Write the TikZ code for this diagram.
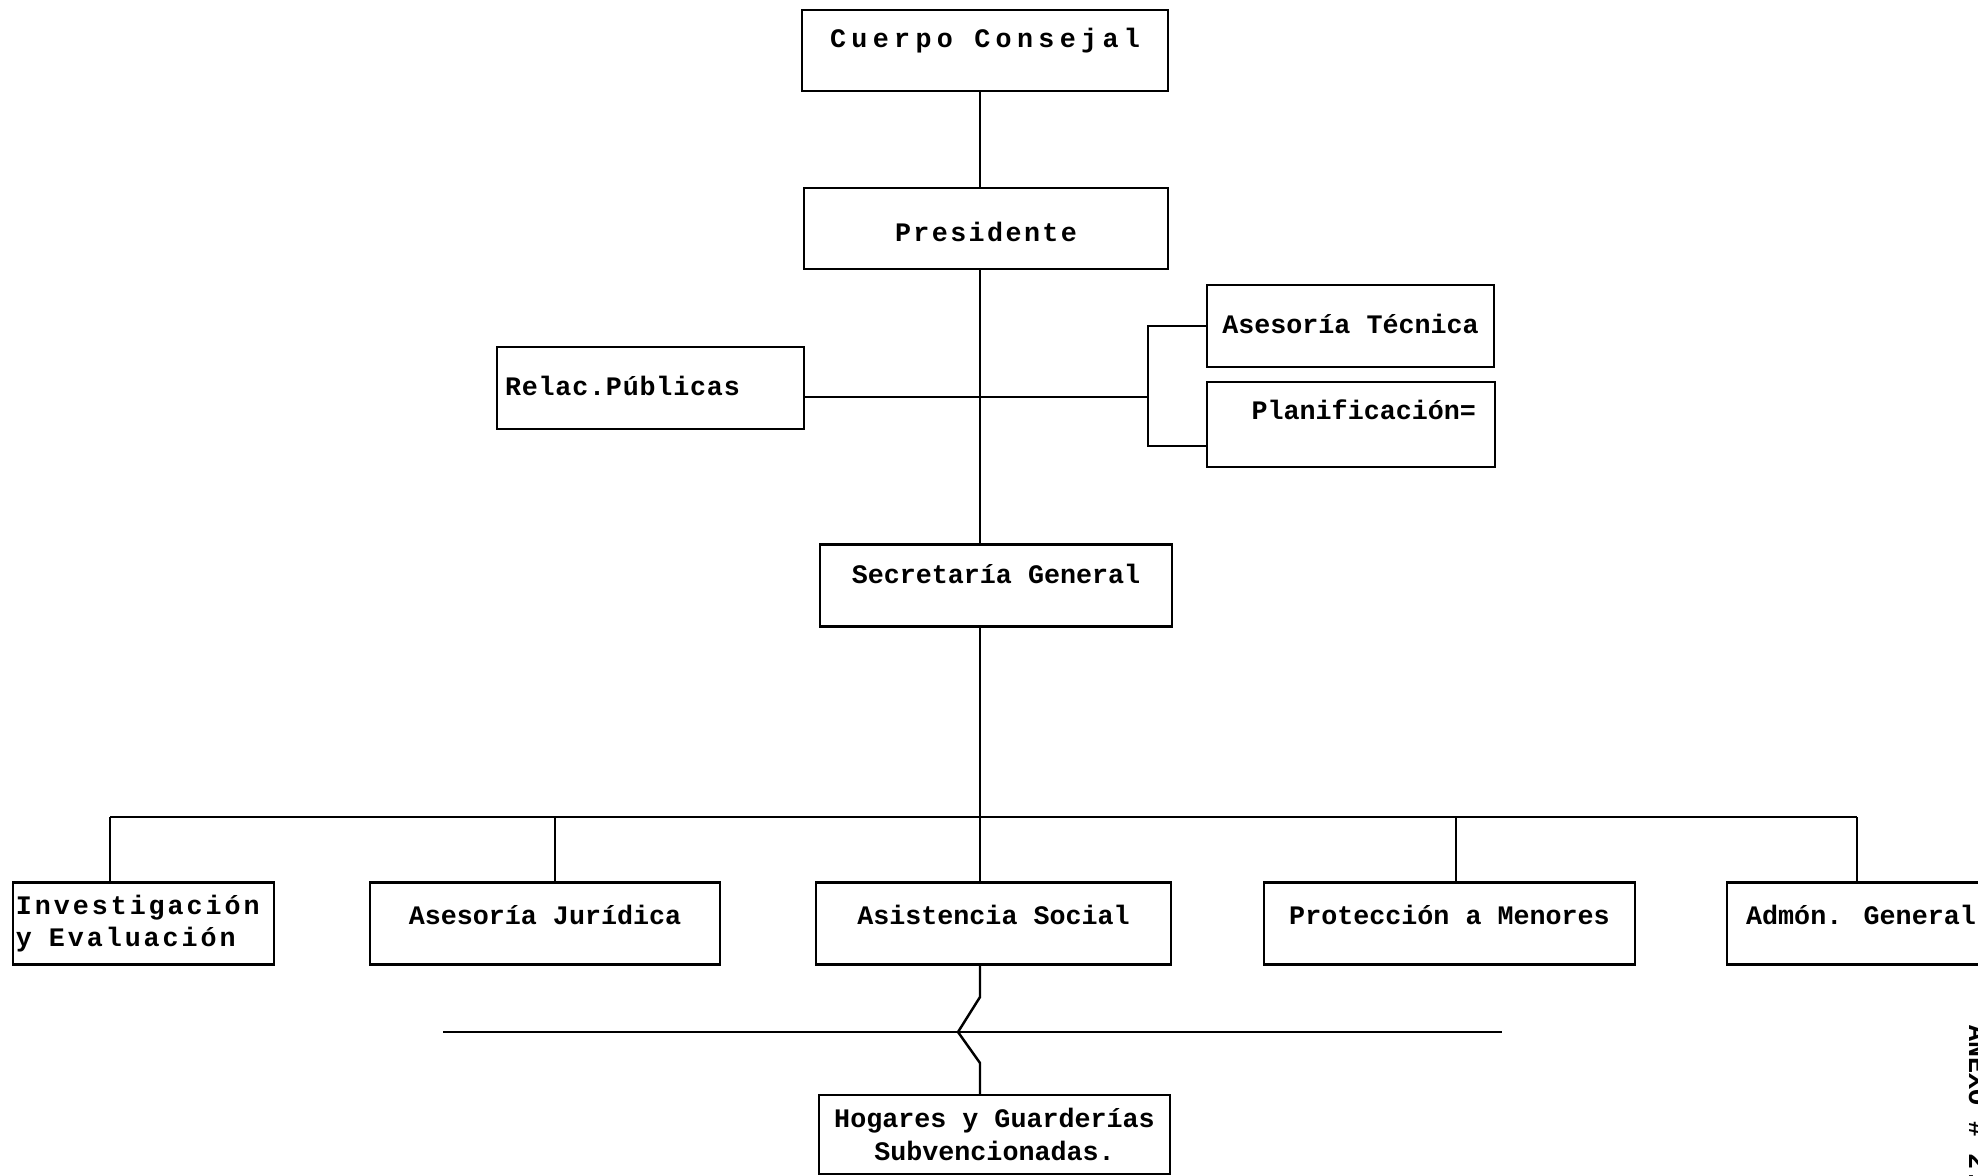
\documentclass[tikz,border=0pt]{standalone}
\usepackage{fontspec}
\newfontfamily\maquina{Liberation Mono}

\begin{document}
\begin{tikzpicture}[
    font=\maquina\bfseries\fontsize{7.6}{9.2}\selectfont,
    caja/.style={draw, line width=0.7pt, minimum height=8.2mm, inner sep=1pt},
    lin/.style={text height=2mm, text depth=#1},
    lin/.default=0.6mm,
    ancho/.style={font=\maquina\bfseries\fontsize{7.6}{9.2}\selectfont\addfontfeature{LetterSpace=#1}},
    linea/.style={line width=0.7pt}]

    \useasboundingbox (0,0) rectangle (19.78,-11.75);
    \coordinate (tronco) at (9.80,0);

    % organos superiores
    \node[caja, lin=2.6mm, ancho=20, minimum width=36.6mm, minimum height=8.1mm] (cc) at (9.85,-0.505) {Cuerpo Consejal};
    \node[caja, lin, text height=3.2mm, ancho=9, minimum width=36.4mm, minimum height=8.1mm] (pres) at (9.86,-2.285) {Presidente};
    \node[caja, lin, ancho=3, inner xsep=0.8mm, text width=29.1mm, align=left] (rp) at (6.505,-3.88) {Relac.Públicas};
    \node[caja, lin, minimum width=28.7mm] (at) at (13.505,-3.26) {Asesoría Técnica};
    \node[caja, lin=3.0mm, minimum height=8.5mm, inner xsep=1.9mm, text width=25mm, align=right] (pl) at (13.51,-4.245) {Planificación=};
    \node[caja, lin=2.4mm, minimum width=35.2mm] (sg) at (9.96,-5.855) {Secretaría General};

    % departamentos
    \node[caja, ancho=11, inner xsep=0.3mm, text width=25.5mm, align=left] (inv) at (1.435,-9.235) {Investigación\\y\hspace{0.8mm} Evaluación};
    \node[caja, lin=1.8mm, minimum width=35mm] (aj) at (5.45,-9.235) {Asesoría Jurídica};
    \node[caja, lin=1.8mm, minimum width=35.5mm] (as) at (9.935,-9.235) {Asistencia Social};
    \node[caja, lin=1.8mm, minimum width=37.1mm] (pm) at (14.495,-9.235) {Protección a Menores};
    \node[caja, lin=1.8mm, minimum width=26.8mm] (ag) at (18.61,-9.235) {Admón. General};
    \node[caja, minimum width=35.1mm, minimum height=7.9mm, align=center] (hog) at (9.945,-11.345) {Hogares y Guarderías\\Subvencionadas.};

    \node[rotate=-90, anchor=base west, inner sep=0pt] (anexo) at (19.69,-10.25) {ANEXO \# 2.};

    % tronco principal
    \draw[linea] (cc.south -| tronco) -- (pres.north -| tronco);
    \draw[linea] (pres.south -| tronco) -- (sg.north -| tronco);
    \draw[linea] (sg.south -| tronco) -- (as.north -| tronco);

    % asesoria lateral
    \coordinate (brk) at (11.48,-3.97);
    \coordinate (brkb) at (11.48,-4.46);
    \draw[linea] (rp.east |- brk) -- (brk);
    \draw[linea] (at.west) -| (brkb) -- (brkb -| pl.west);

    % barra de departamentos
    \coordinate (b1) at (1.10,-8.17);
    \coordinate (b2) at (5.55,-8.17);
    \coordinate (b4) at (14.56,-8.17);
    \coordinate (b5) at (18.57,-8.17);
    \draw[linea] (b1) -- (b5);
    \foreach \b/\n in {b1/inv, b2/aj, b4/pm, b5/ag}
        \draw[linea] (\b) -- (\b |- \n.north);

    % hogares, con cruce de la linea
    \coordinate (q1) at (9.80,-9.97);
    \coordinate (q2) at (9.58,-10.32);
    \coordinate (q3) at (9.80,-10.63);
    \coordinate (lw) at (4.43,-10.32);
    \coordinate (le) at (15.02,-10.32);
    \draw[linea] (lw) -- (le);
    \draw[linea] (as.south -| tronco) -- (q1) -- (q2) -- (q3) -- (hog.north -| tronco);
\end{tikzpicture}
\end{document}
